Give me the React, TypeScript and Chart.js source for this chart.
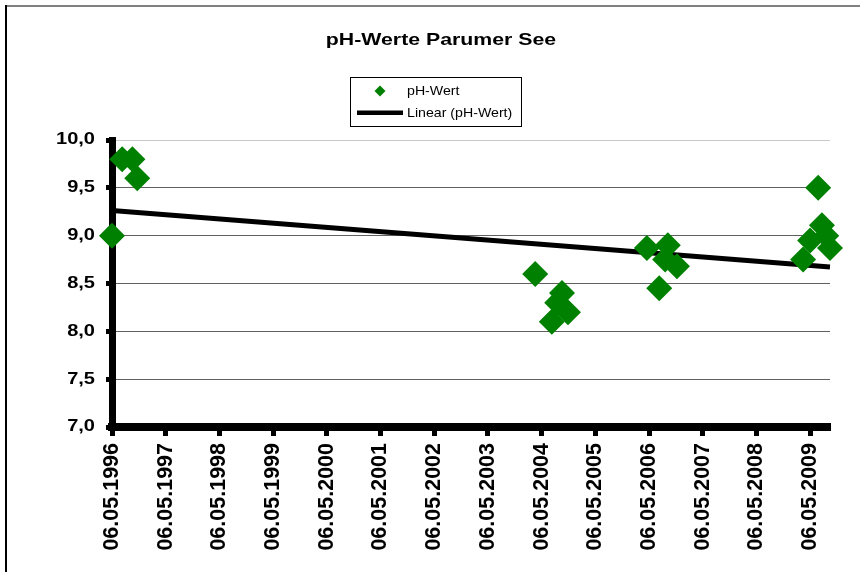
import React, { useEffect, useRef } from 'react';
import { Chart, registerables } from 'chart.js';

Chart.register(...registerables);

const chartTitle = 'pH-Werte Parumer See';
const seriesLabel = 'pH-Wert';
const trendLabel = 'Linear (pH-Wert)';

// sampling dates, in years elapsed since 06.05.1996
const sampleYears = [
  0, 0.19, 0.38, 0.47,
  7.88, 8.19, 8.29, 8.38, 8.49,
  9.96, 10.19, 10.3, 10.35, 10.52,
  12.87, 13.0, 13.15, 13.22, 13.3, 13.37,
];
const phValues = [
  9.0, 9.8, 9.8, 9.6,
  8.6, 8.1, 8.3, 8.4, 8.2,
  8.87, 8.45, 8.75, 8.9, 8.68,
  8.75, 8.95, 9.5, 9.11, 9.0, 8.87,
];

const xTickLabels = [
  '06.05.1996', '06.05.1997', '06.05.1998', '06.05.1999', '06.05.2000',
  '06.05.2001', '06.05.2002', '06.05.2003', '06.05.2004', '06.05.2005',
  '06.05.2006', '06.05.2007', '06.05.2008', '06.05.2009',
];
const xAxisMax = 13.37;
const yAxisMin = 7;
const yAxisMax = 10;
const yAxisStep = 0.5;

const FONT = "'Liberation Sans', Arial, sans-serif";
const GREEN = '#008000';

// least-squares trend line from the data
function linearTrend(xs: number[], ys: number[]) {
  const n = xs.length;
  const mx = xs.reduce((a, b) => a + b, 0) / n;
  const my = ys.reduce((a, b) => a + b, 0) / n;
  let sxy = 0;
  let sxx = 0;
  for (let i = 0; i < n; i++) {
    sxy += (xs[i] - mx) * (ys[i] - my);
    sxx += (xs[i] - mx) * (xs[i] - mx);
  }
  const slope = sxy / sxx;
  return { slope, intercept: my - slope * mx };
}

const decorPlugin = {
  id: 'decor',
  beforeDraw(chart: any) {
    const ys = chart.scales.y;
    if (ys && !ys._stretched) {
      ys._stretched = true;
      const orig = ys.drawLabels.bind(ys);
      ys.drawLabels = function (area: any) {
        const c = this.ctx;
        const xr = this.right - 6 - 11;
        c.save();
        c.translate(xr, 0);
        c.scale(1.23, 1);
        c.translate(-xr, 0);
        orig(area);
        c.restore();
      };
    }
  },
  afterDraw(chart: any) {
    const ctx = chart.ctx as CanvasRenderingContext2D;
    ctx.save();
    // outer frame
    ctx.fillStyle = '#808080';
    ctx.fillRect(5, 5, 855, 2);
    ctx.fillStyle = '#000';
    ctx.fillRect(5, 5, 2, 567);

    // axis corner
    const ca = chart.chartArea;
    ctx.fillRect(ca.left - 4, ca.bottom - 4, 8, 8);

    // title
    ctx.fillStyle = '#000';
    ctx.font = `bold 16.5px ${FONT}`;
    ctx.textAlign = 'center';
    ctx.textBaseline = 'alphabetic';
    ctx.save();
    ctx.translate(441, 45);
    ctx.scale(1.29, 1);
    ctx.fillText(chartTitle, 0, 0);
    ctx.restore();

    // legend
    ctx.strokeStyle = '#000';
    ctx.lineWidth = 1;
    ctx.strokeRect(350.5, 77.5, 171, 49);
    ctx.fillStyle = GREEN;
    ctx.beginPath();
    ctx.moveTo(380, 85.5);
    ctx.lineTo(385.5, 91);
    ctx.lineTo(380, 96.5);
    ctx.lineTo(374.5, 91);
    ctx.closePath();
    ctx.fill();
    ctx.fillStyle = '#000';
    ctx.fillRect(357, 110.5, 46, 4.5);
    ctx.font = `13px ${FONT}`;
    ctx.textAlign = 'left';
    ctx.textBaseline = 'middle';
    const items = [
      [seriesLabel, 91.5],
      [trendLabel, 113],
    ] as const;
    for (const [t, y] of items) {
      ctx.save();
      ctx.translate(407, y);
      ctx.scale(1.09, 1);
      ctx.fillText(t, 0, 0);
      ctx.restore();
    }
    ctx.restore();
  },
};

export default function App() {
  const ref = useRef<HTMLCanvasElement>(null);

  useEffect(() => {
    if (!ref.current) return;
    const points = sampleYears.map((x, i) => ({ x, y: phValues[i] }));
    const { slope, intercept } = linearTrend(sampleYears, phValues);
    const trendData = [
      { x: 0, y: intercept },
      { x: xAxisMax, y: intercept + slope * xAxisMax },
    ];

    const chart = new Chart(ref.current, {
      type: 'scatter',
      data: {
        datasets: [
          {
            type: 'scatter',
            label: seriesLabel,
            data: points,
            pointStyle: 'rectRot',
            pointRadius: 13,
            pointHoverRadius: 13,
            backgroundColor: GREEN,
            borderColor: GREEN,
            borderWidth: 0,
            clip: false,
          } as any,
          {
            type: 'line',
            label: trendLabel,
            data: trendData,
            borderColor: '#000',
            borderWidth: 5,
            pointRadius: 0,
            fill: false,
            showLine: true,
            clip: false,
          } as any,
        ],
      },
      options: {
        responsive: false,
        animation: false,
        devicePixelRatio: 1,
        events: [],
        layout: { padding: { top: 140, right: 30, left: 0, bottom: 0 } },
        plugins: {
          legend: { display: false },
          title: { display: false },
          tooltip: { enabled: false },
        },
        scales: {
          x: {
            type: 'linear',
            min: 0,
            max: xAxisMax,
            afterBuildTicks: (s: any) => {
              s.ticks = xTickLabels.map((_, i) => ({ value: i }));
            },
            afterFit: (s: any) => {
              s.height = 145;
            },
            ticks: {
              autoSkip: false,
              minRotation: 90,
              maxRotation: 90,
              padding: 7,
              color: '#000',
              font: { family: FONT, size: 21.5, weight: 'bold' },
              callback: (_v: any, i: number) => xTickLabels[i] ?? '',
            },
            grid: {
              drawOnChartArea: false,
              drawTicks: true,
              tickLength: 9,
              tickWidth: 5,
              tickColor: '#000',
            },
            border: { display: true, width: 8, color: '#000' },
          },
          y: {
            type: 'linear',
            min: yAxisMin,
            max: yAxisMax,
            afterFit: (s: any) => {
              s.width = 112;
            },
            ticks: {
              stepSize: yAxisStep,
              padding: 11,
              color: '#000',
              font: { family: FONT, size: 16.3, weight: 'bold' },
              callback: (v: any) => Number(v).toFixed(1).replace('.', ','),
            },
            grid: {
              color: (c: any) => (c.tick && c.tick.value === yAxisMax ? '#c8c8c8' : '#606060'),
              lineWidth: 1,
              tickLength: 6,
              tickWidth: 5,
              tickColor: '#000',
            },
            border: { display: true, width: 7, color: '#000' },
          },
        },
      } as any,
      plugins: [decorPlugin],
    });
    return () => chart.destroy();
  }, []);

  return (
    <div
      style={{
        position: 'fixed',
        left: 0,
        top: 0,
        width: 860,
        height: 572,
        background: '#fff',
      }}
    >
      <canvas ref={ref} width={860} height={572} style={{ display: 'block' }} />
    </div>
  );
}
